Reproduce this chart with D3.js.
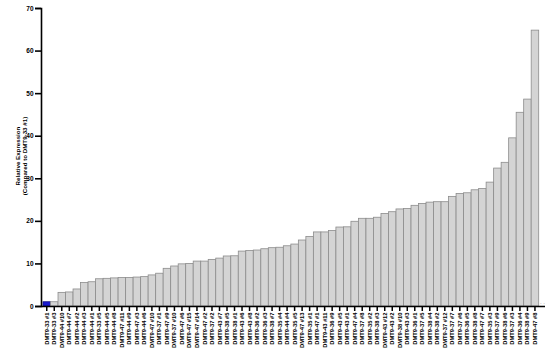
<!DOCTYPE html>
<html>
<head>
<meta charset="utf-8">
<script src="https://cdn.jsdelivr.net/npm/d3@7"></script>
<style>
  body { margin: 0; background: #fff; }
  svg text { font-family: "Liberation Sans", Arial, sans-serif; }
</style>
</head>
<body>
<div id="chart"></div>
<script>
const samples = [
  "DMT9-33 #1", "DMT9-33 #3", "DMT9-44 #10", "DMT9-44 #7", "DMT9-44 #2", "DMT9-44 #3",
  "DMT9-44 #1", "DMT9-33 #5", "DMT9-44 #5", "DMT9-44 #8", "DMT9-47 #11", "DMT9-44 #9",
  "DMT9-47 #3", "DMT9-44 #6", "DMT9-47 #10", "DMT9-37 #1", "DMT9-47 #9", "DMT9-37 #10",
  "DMT9-47 #6", "DMT9-47 #15", "DMT9-47 #14", "DMT9-47 #2", "DMT9-37 #2", "DMT9-43 #7",
  "DMT9-38 #5", "DMT9-38 #1", "DMT9-43 #6", "DMT9-43 #8", "DMT9-36 #2", "DMT9-36 #3",
  "DMT9-38 #7", "DMT9-35 #4", "DMT9-44 #4", "DMT9-35 #5", "DMT9-47 #13", "DMT9-35 #1",
  "DMT9-47 #1", "DMT9-43 #11", "DMT9-36 #9", "DMT9-43 #5", "DMT9-43 #1", "DMT9-47 #4",
  "DMT9-37 #8", "DMT9-35 #2", "DMT9-38 #3", "DMT9-43 #12", "DMT9-43 #2", "DMT9-38 #10",
  "DMT9-43 #3", "DMT9-36 #1", "DMT9-37 #5", "DMT9-38 #4", "DMT9-38 #2", "DMT9-37 #12",
  "DMT9-37 #7", "DMT9-37 #6", "DMT9-36 #5", "DMT9-38 #8", "DMT9-47 #7", "DMT9-35 #3",
  "DMT9-37 #9", "DMT9-38 #6", "DMT9-37 #3", "DMT9-36 #4", "DMT9-38 #9", "DMT9-47 #8"
];

const expression = [
  1.0, 1.0, 3.2, 3.3, 4.0, 5.5, 5.7, 6.4, 6.5, 6.6, 6.7, 6.7,
  6.8, 6.9, 7.3, 7.7, 8.85, 9.4, 9.9, 10.0, 10.55, 10.55, 10.95, 11.25,
  11.75, 11.8, 12.9, 13.05, 13.15, 13.45, 13.7, 13.8, 14.15, 14.55, 15.5, 16.35,
  17.4, 17.4, 17.75, 18.55, 18.6, 19.9, 20.6, 20.6, 20.85, 21.75, 22.15, 22.8,
  22.9, 23.65, 24.1, 24.4, 24.5, 24.5, 25.75, 26.45, 26.6, 27.3, 27.6, 29.1,
  32.4, 33.75, 39.5, 45.5, 48.6, 64.8
];

const yTicks = [0, 10, 20, 30, 40, 50, 60, 70];

const W = 550, H = 354;
const svg = d3.select("#chart").append("svg")
  .attr("width", W)
  .attr("height", H);

const x = d3.scaleBand()
  .domain(samples)
  .range([43, 538.7])
  .paddingInner(0)
  .paddingOuter(0);

const y = d3.scaleLinear()
  .domain([0, 70])
  .range([306, 8]);

// bars
svg.append("g")
  .selectAll("rect")
  .data(samples)
  .enter()
  .append("rect")
  .attr("x", (d) => x(d))
  .attr("y", (d, i) => y(expression[i]))
  .attr("width", x.bandwidth())
  .attr("height", (d, i) => y(0) - y(expression[i]))
  .attr("fill", (d, i) => (i === 0 ? "#1a1ad0" : "#d4d4d4"))
  .attr("stroke", (d, i) => (i === 0 ? "#10108a" : "#8c8c8c"))
  .attr("stroke-width", 0.8);

// y axis
const yAxis = svg.append("g")
  .attr("transform", "translate(41,0)")
  .call(d3.axisLeft(y).tickValues(yTicks).tickSize(6).tickPadding(1.5));
yAxis.select(".domain").attr("stroke", "#000").attr("stroke-width", 1.6);
yAxis.selectAll(".tick line").attr("stroke", "#000").attr("stroke-width", 1.6);
yAxis.selectAll(".tick text")
  .attr("font-size", 6.5)
  .attr("font-weight", "bold")
  .attr("fill", "#000");

// x axis
const xAxis = svg.append("g")
  .attr("transform", "translate(0,306)")
  .call(d3.axisBottom(x).tickSize(5).tickSizeOuter(0).tickPadding(3));
xAxis.select(".domain").attr("stroke", "#000").attr("stroke-width", 1.6)
  .attr("d", "M41,0.5H545");
xAxis.selectAll(".tick line").attr("stroke", "#000").attr("stroke-width", 1.5);
xAxis.selectAll(".tick text")
  .attr("font-size", 5.8)
  .attr("font-weight", "bold")
  .attr("fill", "#000")
  .attr("transform", "rotate(-90)")
  .attr("text-anchor", "end")
  .attr("dy", "0.35em")
  .attr("x", -6.5)
  .attr("y", 0);

// small marks after the last bar
svg.append("text")
  .attr("x", 540)
  .attr("y", 304)
  .attr("font-size", 6)
  .attr("fill", "#888")
  .text(". .");

// y title
const title = svg.append("text")
  .attr("transform", "translate(0,156) rotate(-90)")
  .attr("text-anchor", "middle")
  .attr("font-size", 6.2)
  .attr("font-weight", "bold")
  .attr("fill", "#000");
title.append("tspan").attr("x", 0).attr("y", 20).text("Relative Expression");
title.append("tspan").attr("x", 0).attr("y", 27).text("(Compared to DMT9-33 #1)");
</script>
</body>
</html>
